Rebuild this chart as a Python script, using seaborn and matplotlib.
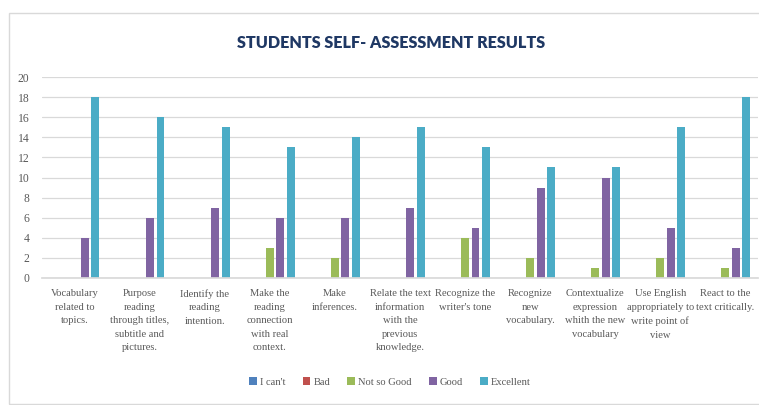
import matplotlib
matplotlib.use("Agg")
import matplotlib.pyplot as plt
import seaborn as sns
import pandas as pd
from matplotlib.patches import Rectangle

categories = [
    "Vocabulary\nrelated to\ntopics.",
    "Purpose\nreading\nthrough titles,\nsubtitle and\npictures.",
    "Identify the\nreading\nintention.",
    "Make the\nreading\nconnection\nwith real\ncontext.",
    "Make\ninferences.",
    "Relate the text\ninformation\nwith the\nprevious\nknowledge.",
    "Recognize the\nwriter's tone",
    "Recognize\nnew\nvocabulary.",
    "Contextualize\nexpression\nwhith the new\nvocabulary",
    "Use English\nappropriately to\nwrite point of\nview",
    "React to the\ntext critically.",
]
series_names = ["I can't", "Bad", "Not so Good", "Good", "Excellent"]
i_cant = [0, 0, 0, 0, 0, 0, 0, 0, 0, 0, 0]
bad = [0, 0, 0, 0, 0, 0, 0, 0, 0, 0, 0]
not_so_good = [0, 0, 0, 3, 2, 0, 4, 2, 1, 2, 1]
good = [4, 6, 7, 6, 6, 7, 5, 9, 10, 5, 3]
excellent = [18, 16, 15, 13, 14, 15, 13, 11, 11, 15, 18]
y_ticks = list(range(0, 21, 2))

colors = ["#4F81BD", "#C0504D", "#9BBB59", "#8064A2", "#4BACC6"]

rows = []
for name, vals in zip(series_names, [i_cant, bad, not_so_good, good, excellent]):
    for cat, v in zip(categories, vals):
        rows.append({"category": cat, "level": name, "count": v})
df = pd.DataFrame(rows)

sns.set_theme(style="white")
plt.rcParams["font.family"] = ["Liberation Serif", "DejaVu Serif"]

fig = plt.figure(figsize=(7.59, 4.05), dpi=100)
fig.patch.set_facecolor("white")
ax = fig.add_axes([42 / 759, 1 - 278 / 405, 716 / 759, 201 / 405])

sns.barplot(data=df, x="category", y="count", hue="level",
            hue_order=series_names, order=categories,
            palette=colors, width=0.8, gap=0.24, ax=ax,
            edgecolor="none", linewidth=0, saturation=1, legend=True)

ax.set_ylim(0, 20)
ax.set_xlim(-0.5, len(categories) - 0.5)
ax.set_yticks(y_ticks)
ax.yaxis.grid(True, color="#D9D9D9", linewidth=0.9)
ax.set_axisbelow(True)
for side in ["top", "right", "left"]:
    ax.spines[side].set_visible(False)
ax.spines["bottom"].set_color("#D9D9D9")
ax.set_xlabel("")
ax.set_ylabel("")
ax.tick_params(axis="both", length=0, colors="#595959", labelsize=8.4)
ax.tick_params(axis="y", pad=9)
ax.tick_params(axis="x", pad=8)
for lbl in ax.get_xticklabels():
    lbl.set_verticalalignment("top")
    lbl.set_linespacing(1.65)
    lbl.set_fontsize(7.6)

leg = ax.legend(loc="center", bbox_to_anchor=(390 / 759, 1 - 382 / 405),
                bbox_transform=fig.transFigure, ncol=5, frameon=False,
                fontsize=7.6, handlelength=0.75, handleheight=0.75,
                handletextpad=0.3, columnspacing=1.6)
for t in leg.get_texts():
    t.set_color("#595959")

fig.text(391 / 759, 1 - 43 / 405, "STUDENTS SELF- ASSESSMENT RESULTS",
         ha="center", va="center", fontsize=11.6, fontweight="heavy",
         color="#1F3864", family=["Lato", "DejaVu Sans"])

fig.patches.append(Rectangle((9 / 759, 1 / 405), 760 / 759, (404 - 13) / 405,
                             transform=fig.transFigure, fill=False,
                             edgecolor="#D9D9D9", linewidth=1.0))

fig.savefig("out.png", dpi=100, facecolor="white")
